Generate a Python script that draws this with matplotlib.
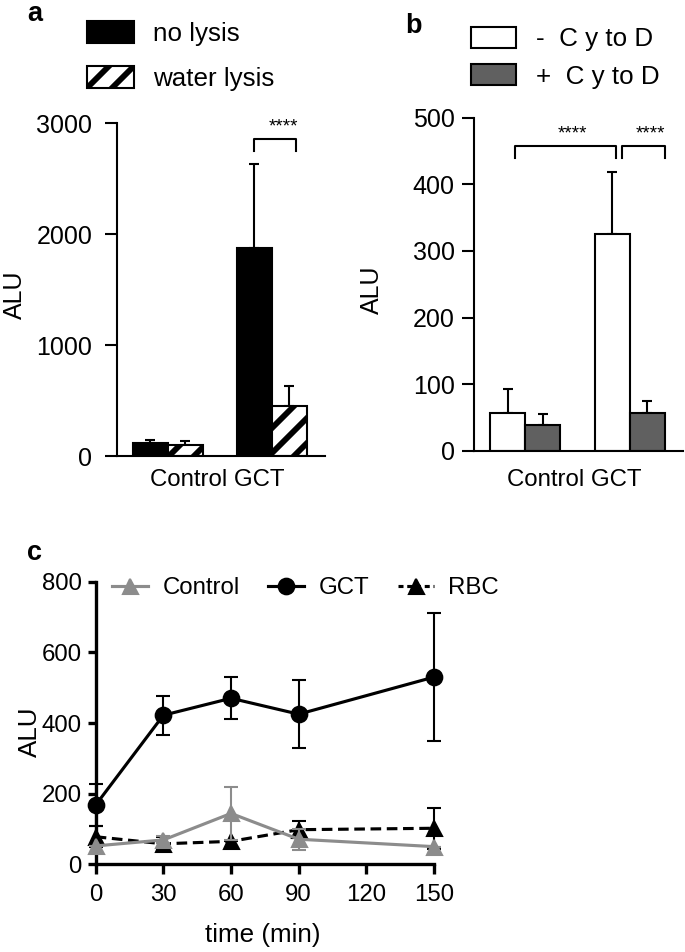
import matplotlib
matplotlib.use("Agg")
import matplotlib.pyplot as plt
from matplotlib.patches import Patch
from matplotlib.lines import Line2D
import numpy as np

W, H, DPI = 685, 952, 150

groups = ["Control", "GCT"]

# panel a
no_lysis = [115, 1870]
no_lysis_err = [30, 760]
water_lysis = [95, 450]
water_lysis_err = [40, 180]

# panel b
minus_cytod = [56, 325]
minus_cytod_err = [36, 93]
plus_cytod = [39, 57]
plus_cytod_err = [16, 18]

# panel c
time_min = [0, 30, 60, 90, 150]
control_alu = [52, 69, 144, 71, 50]
control_err = [0, 10, 76, 30, 0]
gct_alu = [168, 422, 470, 425, 530]
gct_err = [60, 55, 60, 97, 180]
rbc_alu = [78, 58, 65, 98, 102]
rbc_err = [30, 18, 0, 24, 58]

SANS = ["Liberation Sans", "Arial", "DejaVu Sans"]
plt.rcParams["font.family"] = SANS
plt.rcParams["hatch.linewidth"] = 2.8


def box(l, t, r, b):
    # pixel box -> figure fraction rect
    return [l / W, 1 - b / H, (r - l) / W, (b - t) / H]


def style_bar_axes(ax, ymax, step, pad):
    for s in ["top", "right"]:
        ax.spines[s].set_visible(False)
    for s in ["left", "bottom"]:
        ax.spines[s].set_linewidth(1.0)
    ax.set_ylim(0, ymax)
    ax.set_yticks(np.arange(0, ymax + 1, step))
    ax.set_xticks([])
    ax.set_xlim(-0.49, 1.51)
    ax.tick_params(axis="y", length=5.8, width=1.0, labelsize=12, pad=pad)
    ax.set_ylabel("ALU", fontsize=12, va="center")
    ax.set_xlabel("Control GCT", fontsize=11.5, va="center")


def bracket(ax, x0, x1, y_top, y_leg, star_x, star_y):
    ax.plot([x0, x0, x1, x1], [y_leg, y_top, y_top, y_leg], color="black",
            lw=1.0, clip_on=False)
    ax.text(star_x, star_y, "****", fontsize=9, ha="center", va="center")


fig = plt.figure(figsize=(W / DPI, H / DPI), dpi=DPI)
x = np.arange(len(groups))
w = 0.3365

# ---- a ----
ax_a = fig.add_axes(box(117, 123, 325, 456))
style_bar_axes(ax_a, 3000, 1000, 6)
zeros = np.zeros(2)
ax_a.errorbar(x - w / 2, no_lysis, yerr=[zeros, no_lysis_err], fmt="none",
              ecolor="black", elinewidth=1.0, capsize=2.6, capthick=1.0, zorder=1)
ax_a.errorbar(x + w / 2, water_lysis, yerr=[zeros, water_lysis_err], fmt="none",
              ecolor="black", elinewidth=1.0, capsize=2.6, capthick=1.0, zorder=1)
ax_a.bar(x - w / 2, no_lysis, w, color="black", edgecolor="black", lw=1.0, zorder=2)
ax_a.bar(x + w / 2, water_lysis, w, color="white", edgecolor="black", lw=1.0,
         hatch="//", zorder=2)
bracket(ax_a, 0.83, 1.23, 2856, 2750, 1.115, 2965)
ax_a.yaxis.set_label_coords(-0.49, 0.483)
ax_a.xaxis.set_label_coords(0.48, -0.072)
leg_a = [Patch(facecolor="black", edgecolor="black", lw=1.0, label="no lysis"),
         Patch(facecolor="white", edgecolor="black", lw=1.0, hatch="//",
               label="water lysis")]
fig.legend(handles=leg_a, loc="upper left", bbox_to_anchor=(87 / W, 1 - 21 / H),
           frameon=False, fontsize=12.5, borderpad=0, borderaxespad=0,
           handlelength=1.8, handleheight=0.95, handletextpad=0.75,
           labelspacing=0.75)

# ---- b ----
ax_b = fig.add_axes(box(474, 117.7, 683, 450.7))
style_bar_axes(ax_b, 500, 100, 3.4)
ax_b.errorbar(x - w / 2, minus_cytod, yerr=[zeros, minus_cytod_err], fmt="none",
              ecolor="black", elinewidth=1.0, capsize=2.6, capthick=1.0, zorder=1)
ax_b.errorbar(x + w / 2, plus_cytod, yerr=[zeros, plus_cytod_err], fmt="none",
              ecolor="black", elinewidth=1.0, capsize=2.6, capthick=1.0, zorder=1)
ax_b.bar(x - w / 2, minus_cytod, w, color="white", edgecolor="black", lw=1.0, zorder=2)
ax_b.bar(x + w / 2, plus_cytod, w, color="#606060", edgecolor="black", lw=1.0, zorder=2)
bracket(ax_b, -0.096, 0.866, 458, 439, 0.449, 476)
bracket(ax_b, 0.93, 1.335, 458, 439, 1.2, 476)
ax_b.yaxis.set_label_coords(-0.488, 0.482)
ax_b.xaxis.set_label_coords(0.478, -0.088)
leg_b = [Patch(facecolor="white", edgecolor="black", lw=1.0, label="-  C y to D"),
         Patch(facecolor="#606060", edgecolor="black", lw=1.0, label="+  C y to D")]
fig.legend(handles=leg_b, loc="upper left", bbox_to_anchor=(470.7 / W, 1 - 27 / H),
           frameon=False, fontsize=12.5, borderpad=0, borderaxespad=0,
           handlelength=1.75, handleheight=0.85, handletextpad=0.75,
           labelspacing=0.5)

# ---- c ----
ax_c = fig.add_axes(box(95.7, 581.7, 434, 864.3))
for s in ["top", "right"]:
    ax_c.spines[s].set_visible(False)
for s in ["left", "bottom"]:
    ax_c.spines[s].set_linewidth(1.6)
ax_c.set_xlim(0, 150)
ax_c.set_ylim(0, 800)
ax_c.set_xticks([0, 30, 60, 90, 120, 150])
ax_c.set_yticks([0, 200, 400, 600, 800])
ax_c.tick_params(axis="y", length=3.8, width=1.6, pad=3.0, labelsize=11.5)
ax_c.tick_params(axis="x", length=4.8, width=1.6, pad=4.5, labelsize=11.5)

rbc = ax_c.errorbar(time_min, rbc_alu, yerr=rbc_err, color="black", lw=1.5,
                    ls=(0, (3.4, 1.8)), marker="^", ms=7.2, elinewidth=1.0,
                    capsize=3.4, capthick=1.0, zorder=3)
ctl = ax_c.errorbar(time_min, control_alu, yerr=control_err, color="#8c8c8c", lw=1.5,
                    marker="^", ms=7.2, elinewidth=1.0, capsize=3.4, capthick=1.0,
                    zorder=4)
gct = ax_c.errorbar(time_min, gct_alu, yerr=gct_err, color="black", lw=1.5,
                    marker="o", ms=7.5, elinewidth=1.0, capsize=3.4, capthick=1.0,
                    zorder=5)
for cont in (rbc, ctl, gct):
    for art in cont.get_children():
        art.set_clip_on(False)

ax_c.set_ylabel("ALU", fontsize=12.5, va="center")
ax_c.yaxis.set_label_coords(-0.194, 0.468)
ax_c.set_xlabel("time (min)", fontsize=12.5, va="center")
ax_c.xaxis.set_label_coords(0.4945, -0.25)

leg_c = [Line2D([], [], color="#8c8c8c", lw=1.5, marker="^", ms=7.2, label="Control"),
         Line2D([], [], color="black", lw=1.5, marker="o", ms=7.5, label="GCT"),
         Line2D([], [], color="black", lw=1.5, ls=(0, (1.6, 1.2)), marker="^", ms=7.2,
                label="RBC")]
fig.legend(handles=leg_c, loc="center left", bbox_to_anchor=(112 / W, 1 - 588 / H),
           frameon=False, ncol=3, numpoints=1, borderpad=0, borderaxespad=0,
           fontsize=11.5, handlelength=1.5, handletextpad=0.6, columnspacing=1.2)

# panel letters
for letter, px, py in [("a", 35, 14), ("b", 413, 26), ("c", 35, 553)]:
    fig.text(px / W, 1 - py / H, letter, fontsize=13, fontweight="bold",
             ha="center", va="center")

fig.savefig("out.png", dpi=DPI)
